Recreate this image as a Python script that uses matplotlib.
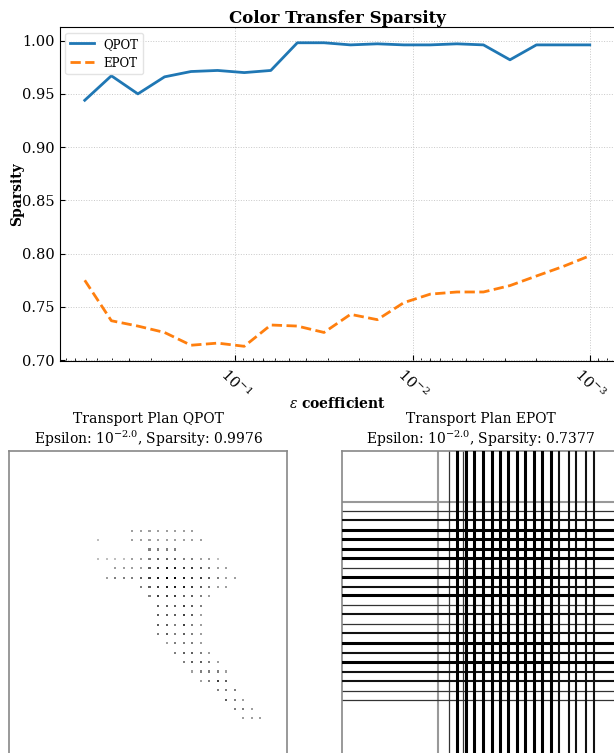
import numpy as np
import matplotlib
matplotlib.use("Agg")
import matplotlib.pyplot as plt

# ── Data ────────────────────────────────────────────────────────
epsilons = [0.708, 0.501, 0.355, 0.251, 0.178, 0.126, 0.0891, 0.0631,
            0.0447, 0.0316, 0.0224, 0.0158, 0.0112, 0.00794, 0.00562,
            0.00398, 0.00282, 0.00200, 0.00141, 0.00100]
sparsity_qpot = [0.944, 0.967, 0.950, 0.966, 0.971, 0.972, 0.970, 0.972,
                 0.998, 0.998, 0.996, 0.997, 0.996, 0.996, 0.997, 0.996,
                 0.982, 0.996, 0.996, 0.996]
sparsity_epot = [0.775, 0.737, 0.732, 0.726, 0.714, 0.716, 0.713, 0.733,
                 0.732, 0.726, 0.743, 0.738, 0.754, 0.762, 0.764, 0.764,
                 0.770, 0.779, 0.788, 0.798]

qpot_title = "Transport Plan QPOT\nEpsilon: $10^{-2.0}$, Sparsity: 0.9976"
epot_title = "Transport Plan EPOT\nEpsilon: $10^{-2.0}$, Sparsity: 0.7377"

# QPOT plan: one string per row, one digit per column (0 = no mass)
qpot_plan = [
    "00003333333300000000",
    "20003333333330000000",
    "00000044440000000000",
    "22223345554433200000",
    "00333356776654330000",
    "03444567887665433000",
    "00000456777654330000",
    "00000046665543000000",
    "00000005556540000000",
    "00000005556530000000",
    "00000005546430000000",
    "00000004545430000000",
    "00000000344430000000",
    "00000000045543000000",
    "00000000004554300000",
    "00000000000344430000",
    "00000000000034650000",
    "00000000000000444000",
    "00000000000000054300",
    "00000000000000004430",
    "00000000000000000333",
]

# EPOT plan: dense rows / columns (grid position, mass level 1..4)
epot_col_pos = [0.75, 2.1, 3.0, 3.7, 4.07, 5.04, 6.1, 7.08, 8.05, 9.03,
                10.0, 11.0, 12.0, 13.0, 14.0, 15.0, 16.1, 17.0, 18.1, 19.06]
epot_col_mass = [1, 2, 4, 2, 4, 4, 4, 4, 4, 4,
                 4, 4, 4, 4, 4, 3, 3, 3, 3, 3]
epot_row_pos = [-3.09, -2.1, -1.14, -0.07, 0.92, 1.98, 2.94, 3.94, 4.9,
                5.97, 6.85, 7.92, 8.9, 9.95, 10.94, 12.0, 13.0, 14.03,
                15.06, 16.0, 17.07, 18.03]
epot_row_mass = [1, 2, 3, 4, 4, 4, 4, 2, 4,
                 3, 4, 2, 3, 2, 3, 4, 3, 4,
                 3, 3, 2, 2]

# ── Style ───────────────────────────────────────────────────────
plt.rcParams["font.family"] = ["DejaVu Serif"]
plt.rcParams["mathtext.fontset"] = "dejavuserif"

W, H = 614, 753
fig = plt.figure(figsize=(W / 100, H / 100), dpi=100, facecolor="white")


def frac_rect(x0, y0, x1, y1):
    """pixel box (top-left origin) -> figure fraction rect"""
    return [x0 / W, 1 - y1 / H, (x1 - x0) / W, (y1 - y0) / H]


# ────────────────────────────────────────────────────────────────
# Top: sparsity vs epsilon
# ────────────────────────────────────────────────────────────────
ax = fig.add_axes(frac_rect(59.5, 27, 615, 361))
ax.plot(epsilons, sparsity_qpot, color="#1f77b4", lw=2, label="QPOT")
ax.plot(epsilons, sparsity_epot, color="#ff7f0e", lw=2, ls="--", label="EPOT")
ax.set_xscale("log")
ax.invert_xaxis()
ax.set_title("Color Transfer Sparsity", fontsize=12, fontweight="bold", pad=3)
ax.set_xlabel(r"$\varepsilon$ coefficient", fontsize=10, fontweight="bold")
ax.set_ylabel("Sparsity", fontsize=10, fontweight="bold")
ax.xaxis.set_label_coords(0.5, -0.105)
ax.yaxis.set_label_coords(-0.063, 0.5)
ax.set_yticks([0.70, 0.75, 0.80, 0.85, 0.90, 0.95, 1.00])
ax.set_ylim(0.6992, 1.0128)
ax.tick_params(axis="both", which="both", direction="in", labelsize=10.5)
ax.tick_params(axis="x", which="major", length=4)
ax.tick_params(axis="x", which="minor", length=2)
for lab in ax.get_xticklabels():
    lab.set_rotation(-45)
ax.grid(True, which="major", ls=":", lw=0.7, color="#c8c8c8")
ax.legend(loc="upper left", fontsize=8.5, framealpha=0.8, edgecolor="#dddddd")

# ────────────────────────────────────────────────────────────────
# Bottom: transport plans
# ────────────────────────────────────────────────────────────────
xlim = (-10.47, 22.12)
ylim = (28.7, -8.5)

ax_q = fig.add_axes(frac_rect(9, 451, 287, 800))
ax_e = fig.add_axes(frac_rect(342, 451, 620, 800))

for a, t in [(ax_q, qpot_title), (ax_e, epot_title)]:
    a.set_xlim(*xlim)
    a.set_ylim(*ylim)
    a.set_xticks([])
    a.set_yticks([])
    a.set_title(t, fontsize=10, linespacing=1.2, pad=5)
    for sp in a.spines.values():
        sp.set_color("#888888")
        sp.set_linewidth(1.2)

# QPOT dots
plan = np.array([[int(c) for c in row] for row in qpot_plan])
rr, cc = np.nonzero(plan)
ax_q.scatter(cc, rr, c=plan[rr, cc], cmap="gray_r", vmin=0, vmax=8,
             marker="s", s=2.2, linewidths=0)

# EPOT lines: lighter first, darker on top
mass_style = {1: ("#999999", 1.5), 2: ("#333333", 0.9),
              3: ("#111111", 1.5), 4: ("#000000", 2.2)}
for level in [1, 2, 3, 4]:
    col, lw = mass_style[level]
    for p, m in zip(epot_row_pos, epot_row_mass):
        if m == level:
            ax_e.axhline(p, color=col, lw=lw, zorder=level)
    for p, m in zip(epot_col_pos, epot_col_mass):
        if m == level:
            ax_e.axvline(p, color=col, lw=lw, zorder=level)

fig.savefig("out.png", dpi=100)
